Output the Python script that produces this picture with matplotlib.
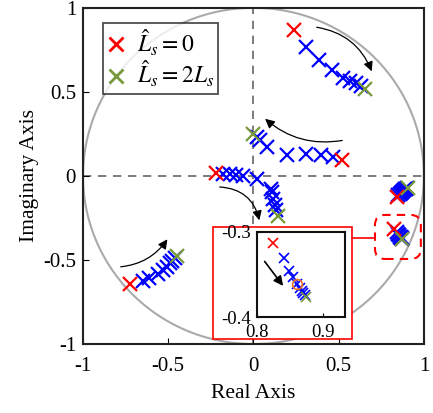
import numpy as np
import matplotlib
matplotlib.use("Agg")
import matplotlib.pyplot as plt
from matplotlib.patches import FancyArrowPatch, Rectangle, FancyBboxPatch

plt.rcParams['font.family'] = ['Liberation Serif', 'DejaVu Serif']
plt.rcParams['mathtext.fontset'] = 'stix'

# --- polbaner (reell, imaginær) ---
# red = start (L_s hat = 0), green = slutt (L_s hat = 2L_s), blue = mellom
b1_re = [0.24, 0.31, 0.385, 0.46, 0.525, 0.565, 0.60, 0.63, 0.655]
b1_im = [0.87, 0.77, 0.69, 0.63, 0.58, 0.565, 0.55, 0.535, 0.515]
b2_re = [0.52, 0.466, 0.395, 0.31, 0.195, 0.08, 0.04, 0.02, 0.0]
b2_im = [0.095, 0.11, 0.125, 0.13, 0.125, 0.175, 0.215, 0.23, 0.25]
b3_re = [-0.22, -0.18, -0.14, -0.10, -0.06, 0.02, 0.10, 0.11, 0.115, 0.125, 0.135, 0.145]
b3_im = [0.02, 0.01, 0.01, 0.005, 0.0, -0.02, -0.08, -0.095, -0.14, -0.175, -0.2, -0.24]
b4_re = [-0.725, -0.65, -0.61, -0.56, -0.53, -0.51, -0.49, -0.475, -0.46, -0.45]
b4_im = [-0.64, -0.625, -0.61, -0.585, -0.56, -0.54, -0.52, -0.505, -0.49, -0.475]
b5_re = [0.84, 0.85, 0.858, 0.866, 0.872, 0.878, 0.884, 0.89, 0.895, 0.9, 0.905]
b5_im = [-0.125, -0.115, -0.108, -0.1, -0.095, -0.09, -0.085, -0.08, -0.077, -0.073, -0.07]
b6_re = [0.824, 0.841, 0.849, 0.855, 0.861, 0.865, 0.868, 0.870, 0.872, 0.874]
b6_im = [-0.313, -0.331, -0.346, -0.353, -0.361, -0.366, -0.369, -0.372, -0.374, -0.376]
branches = [(b1_re, b1_im), (b2_re, b2_im), (b3_re, b3_im),
            (b4_re, b4_im), (b5_re, b5_im), (b6_re, b6_im)]
marked = (0.861, -0.361)

red = "#ff0000"
blue = "#0000ff"
green = "#77993c"
ms = 10
mew = 1.6

fig = plt.figure(figsize=(4.33, 4.13), dpi=100)
ax = fig.add_axes([0.1917, 0.167, 0.7873, 0.814])

t = np.linspace(0, 2*np.pi, 400)
ax.plot(np.cos(t), np.sin(t), color="#aaaaaa", lw=1.5, zorder=1)
ax.axhline(0, color="#666666", ls=(0, (5, 4)), lw=1.2, zorder=1)
ax.axvline(0, color="#666666", ls=(0, (5, 4)), lw=1.2, zorder=1)

for re, im in branches:
    ax.plot(re[1:-1], im[1:-1], "x", color=blue, ms=ms, mew=mew, zorder=3)
    ax.plot(re[0], im[0], "x", color=red, ms=ms, mew=mew, zorder=4)
    ax.plot(re[-1], im[-1], "x", color=green, ms=ms, mew=mew, zorder=4)

# legend
ax.plot([], [], "x", color=red, ms=ms, mew=2, label=r"$\hat{L}_s=0$")
ax.plot([], [], "x", color=green, ms=ms, mew=2, label=r"$\hat{L}_s=2L_s$")
leg = ax.legend(loc="upper left", fontsize=17, frameon=True, fancybox=False,
                edgecolor="#222222", handlelength=0.7, handletextpad=0.5,
                borderaxespad=0.0, borderpad=0.2, labelspacing=0.05,
                bbox_to_anchor=(0.06, 0.955))
leg.get_frame().set_linewidth(1.3)

# piler
arrows = [((0.355, 0.887), (0.70, 0.607), -0.3),
          ((0.537, 0.214), (0.056, 0.351), -0.25),
          ((-0.214, -0.065), (0.038, -0.28), -0.4),
          ((-0.795, -0.542), (-0.496, -0.363), 0.25)]
for a, b, r in arrows:
    ax.add_patch(FancyArrowPatch(a, b, connectionstyle=f"arc3,rad={r}",
                                 arrowstyle="-|>", mutation_scale=14,
                                 color="black", lw=0.9, zorder=5))

# zoom-markering
ax.add_patch(Rectangle((-0.2375, -0.97), 0.8155, 0.666, facecolor="white",
                       edgecolor=red, lw=1.2, zorder=6))
ax.plot([0.578, 0.713], [-0.369, -0.369], color=red, lw=1.2, zorder=6)
ax.add_patch(FancyBboxPatch((0.713, -0.494), 0.269, 0.262,
                            boxstyle="round,pad=0,rounding_size=0.06",
                            facecolor="none", edgecolor=red, lw=1.5,
                            ls=(0, (4, 3)), zorder=6))

ax.set_xlim(-1, 1)
ax.set_ylim(-1, 1)
ax.set_xticks([-1, -0.5, 0, 0.5, 1])
ax.set_yticks([-1, -0.5, 0, 0.5, 1])
ax.set_xticklabels(["-1", "-0.5", "0", "0.5", "1"])
ax.set_yticklabels(["-1", "-0.5", "0", "0.5", "1"])
ax.tick_params(direction="in", labelsize=15, length=4, width=0.8)
ax.tick_params(axis="x", pad=9)
ax.tick_params(axis="y", pad=5)
ax.set_xlabel("Real Axis", fontsize=15.5, labelpad=6)
ax.set_ylabel("Imaginary Axis", fontsize=15.5, labelpad=3)
for s in ax.spines.values():
    s.set_linewidth(1.5)
    s.set_color("#222222")

# innfelt
axi = fig.add_axes([0.5935, 0.2324, 0.2035, 0.2059])
re, im = b6_re, b6_im
axi.plot(re[1:-1], im[1:-1], "x", color=blue, ms=7, mew=1.2)
axi.plot(re[0], im[0], "x", color=red, ms=7, mew=1.2)
axi.plot(re[-1], im[-1], "x", color=green, ms=7, mew=1.2)
axi.plot(*marked, "o", mfc="none", mec="#ee7722", ms=7, mew=1.2)
axi.add_patch(FancyArrowPatch((0.809, -0.332), (0.842, -0.366),
                              arrowstyle="-|>", mutation_scale=14,
                              color="black", lw=1.2))
axi.set_xlim(0.8, 0.933)
axi.set_ylim(-0.4, -0.3)
axi.set_xticks([0.8, 0.9])
axi.set_yticks([-0.4, -0.3])
axi.set_xticklabels(["0.8", "0.9"])
axi.set_yticklabels(["-0.4", "-0.3"])
axi.tick_params(direction="in", labelsize=13.5, length=3)
axi.tick_params(axis="x", pad=5)
axi.tick_params(axis="y", pad=4)
for s in axi.spines.values():
    s.set_linewidth(1.5)
    s.set_color("#111111")

fig.savefig("out.png", dpi=100)
